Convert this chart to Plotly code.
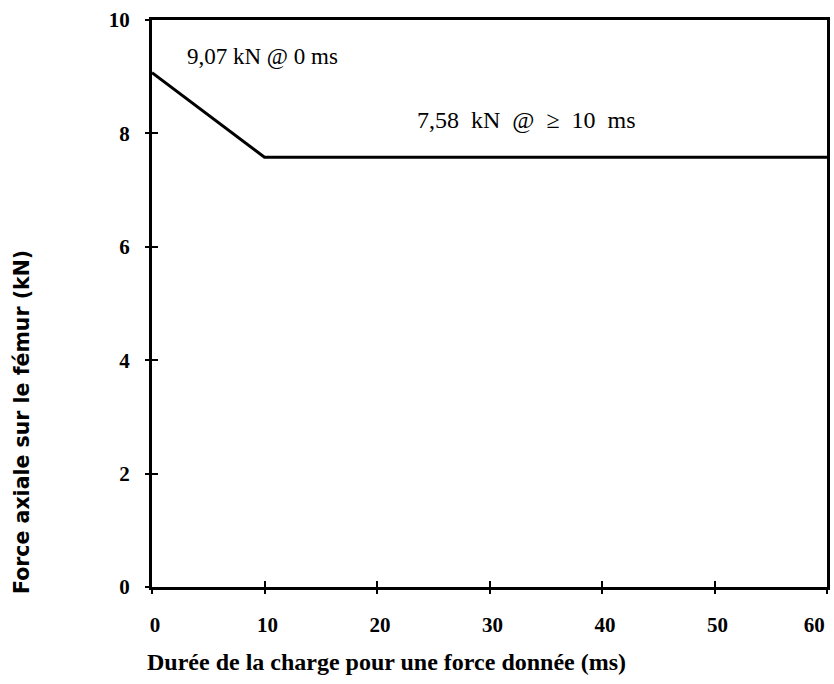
import plotly.graph_objects as go

# Data
duration_ms = [0, 10, 60]
force_kN = [9.07, 7.58, 7.58]
x_ticks = [0, 10, 20, 30, 40, 50, 60]
x_ticktext = ["0", "10", "20", "30", "40", "50", "60"]
y_ticks = [0, 2, 4, 6, 8, 10]
y_ticktext = ["0", "2", "4", "6", "8", "10"]

SERIF = "Liberation Serif, DejaVu Serif, serif"
CLEAR = "rgba(0,0,0,0)"

fig = go.Figure()
fig.add_trace(go.Scatter(x=duration_ms, y=force_kN, mode="lines",
                         line=dict(color="black", width=3), showlegend=False,
                         hoverinfo="skip"))
# dummy traces to activate overlay axes (crossing tick marks)
for k in (2, 3):
    fig.add_trace(go.Scatter(x=[None], y=[None], xaxis="x%d" % k, yaxis="y%d" % k,
                             showlegend=False, hoverinfo="skip"))

tickfont = dict(family=SERIF, size=21, color="black")
mark_common = dict(showticklabels=False, ticklen=6, tickwidth=2, tickcolor="black",
                   showgrid=False, zeroline=False, showline=False)
label_common = dict(showgrid=False, zeroline=False, ticks="outside",
                    tickcolor=CLEAR, tickfont=tickfont, automargin=False,
                    ticklabeloverflow="allow")

# last x label pulled inward like the original (padding after the text)
x_labels = ["<b>%s</b>" % t for t in x_ticktext]
x_labels[-1] = x_labels[-1] + "\u00a0" * 6

fig.update_layout(
    width=834, height=684,
    margin=dict(l=152, r=7, t=20, b=97, autoexpand=False),
    paper_bgcolor="white", plot_bgcolor="white",
    xaxis=dict(range=[0, 60], tickvals=x_ticks, ticktext=x_labels,
               showline=True, linecolor="black", linewidth=3, mirror=True,
               ticklen=17, ticklabelshift=3, **label_common),
    yaxis=dict(range=[0, 10], tickvals=y_ticks,
               ticktext=["<b>%s</b>" % t for t in y_ticktext],
               showline=True, linecolor="black", linewidth=3, mirror=True,
               ticklen=15, **label_common),
    xaxis2=dict(overlaying="x", matches="x", range=[0, 60], tickvals=x_ticks, ticks="inside", **mark_common),
    yaxis2=dict(overlaying="y", matches="y", range=[0, 10], tickvals=y_ticks, ticks="inside", **mark_common),
    xaxis3=dict(overlaying="x", matches="x", range=[0, 60], tickvals=x_ticks, ticks="outside", **mark_common),
    yaxis3=dict(overlaying="y", matches="y", range=[0, 10], tickvals=y_ticks, ticks="outside", **mark_common),
    annotations=[
        dict(x=2.93, y=9.35, xref="x", yref="y", text="9,07 kN @ 0 ms", showarrow=False,
             xanchor="left", yanchor="middle", font=dict(family=SERIF, size=23, color="black")),
        dict(x=33.3, y=8.24, xref="x", yref="y",
             text="7,58\u2002kN\u2002@\u2002\u2265\u200210\u2002ms", showarrow=False,
             xanchor="center", yanchor="middle", font=dict(family=SERIF, size=24, color="black")),
        dict(x=0.348, y=-0.1323, xref="paper", yref="paper",
             text="<b>Durée de la charge pour une force donnée (ms)</b>", showarrow=False,
             xanchor="center", yanchor="middle", font=dict(family=SERIF, size=24, color="black")),
        dict(x=-0.1926, y=0.291, xref="paper", yref="paper", textangle=-90,
             text="<b>Force axiale sur le fémur (kN)</b>", showarrow=False,
             xanchor="center", yanchor="middle",
             font=dict(family="DejaVu Sans, sans-serif", size=20.5, color="black")),
    ],
)

fig.write_html("out.html", config={"displayModeBar": False},
               post_script="document.body.style.margin='0';"
                           "document.documentElement.style.overflow='hidden';")
